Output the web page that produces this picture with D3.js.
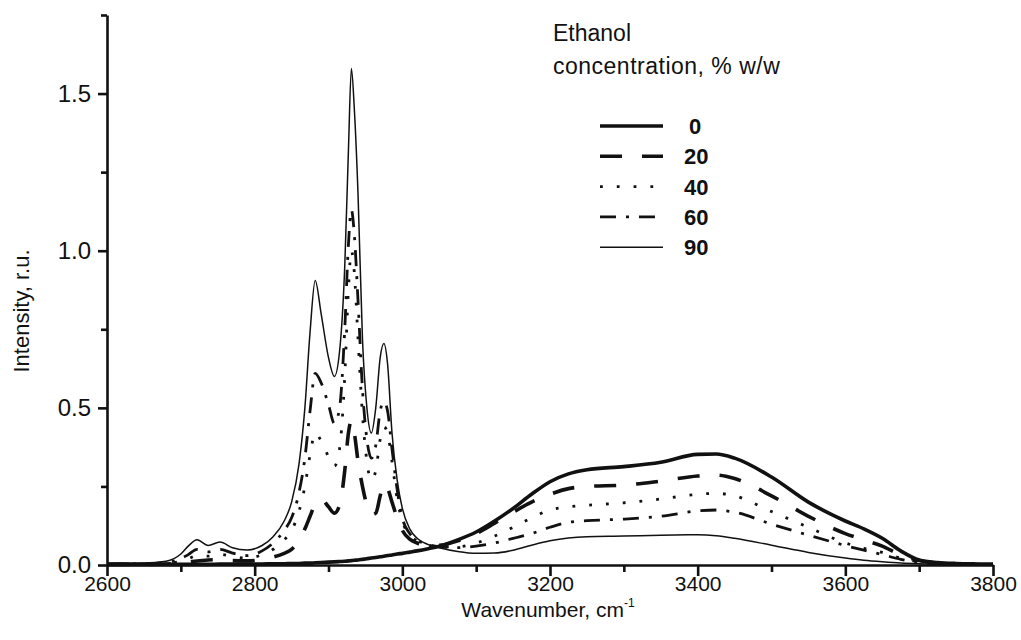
<!DOCTYPE html>
<html>
<head>
<meta charset="utf-8">
<script src="https://cdn.jsdelivr.net/npm/d3@7"></script>
<style>
  body { margin: 0; background: #fff; }
  svg { display: block; font-family: "Liberation Sans", Arial, sans-serif; }
</style>
</head>
<body>
<div id="chart"></div>
<script>
// wavenumber grid (cm-1), denser in the C-H stretching region
var wavenumbers = [2600, 2650, 2680, 2700, 2710, 2722, 2737, 2753, 2770, 2790,
  2810, 2825, 2840, 2850, 2860, 2868, 2875, 2882, 2890, 2900,
  2908, 2915, 2922, 2927, 2931, 2935, 2940, 2946, 2952, 2958,
  2964, 2970, 2975, 2980, 2986, 2993, 3000, 3010, 3020, 3035,
  3050, 3075, 3100, 3125, 3150, 3175, 3200, 3225, 3250, 3300,
  3350, 3400, 3425, 3450, 3500, 3550, 3600, 3625, 3650, 3675,
  3700, 3725, 3750, 3800];

var eth0 = [0.002, 0.002, 0.002, 0.002, 0.002, 0.002, 0.002, 0.003, 0.003, 0.003,
  0.003, 0.004, 0.004, 0.005, 0.005, 0.006, 0.006, 0.007, 0.008, 0.009,
  0.010, 0.011, 0.012, 0.013, 0.014, 0.015, 0.016, 0.018, 0.020, 0.022,
  0.024, 0.026, 0.028, 0.030, 0.032, 0.035, 0.037, 0.041, 0.045, 0.052,
  0.060, 0.080, 0.105, 0.140, 0.180, 0.225, 0.265, 0.290, 0.303, 0.313,
  0.327, 0.352, 0.353, 0.340, 0.280, 0.200, 0.140, 0.115, 0.085, 0.045,
  0.016, 0.008, 0.005, 0.003];

var eth20 = [0.002, 0.002, 0.003, 0.006, 0.009, 0.013, 0.016, 0.017, 0.014, 0.013,
  0.018, 0.025, 0.037, 0.050, 0.078, 0.115, 0.155, 0.195, 0.210, 0.185,
  0.165, 0.190, 0.300, 0.420, 0.460, 0.420, 0.330, 0.250, 0.190, 0.160,
  0.165, 0.220, 0.260, 0.245, 0.200, 0.150, 0.110, 0.082, 0.070, 0.063,
  0.063, 0.077, 0.100, 0.133, 0.168, 0.200, 0.225, 0.243, 0.250, 0.254,
  0.267, 0.283, 0.286, 0.275, 0.220, 0.155, 0.100, 0.080, 0.060, 0.032,
  0.014, 0.006, 0.004, 0.002];

var eth40 = [0.003, 0.003, 0.006, 0.012, 0.020, 0.030, 0.028, 0.034, 0.027, 0.022,
  0.033, 0.050, 0.080, 0.110, 0.170, 0.250, 0.350, 0.420, 0.395, 0.345,
  0.315, 0.370, 0.600, 0.880, 1.000, 0.930, 0.720, 0.480, 0.330, 0.270,
  0.300, 0.400, 0.440, 0.420, 0.330, 0.210, 0.140, 0.095, 0.077, 0.063,
  0.058, 0.058, 0.070, 0.092, 0.120, 0.150, 0.175, 0.185, 0.190, 0.198,
  0.210, 0.225, 0.228, 0.220, 0.170, 0.120, 0.070, 0.053, 0.040, 0.022,
  0.010, 0.005, 0.003, 0.002];

var eth60 = [0.003, 0.004, 0.008, 0.020, 0.033, 0.050, 0.042, 0.050, 0.038, 0.030,
  0.045, 0.070, 0.110, 0.150, 0.230, 0.340, 0.490, 0.610, 0.580, 0.510,
  0.450, 0.500, 0.750, 1.020, 1.130, 1.050, 0.840, 0.560, 0.400, 0.340,
  0.380, 0.490, 0.520, 0.490, 0.370, 0.240, 0.150, 0.100, 0.080, 0.065,
  0.058, 0.055, 0.060, 0.070, 0.085, 0.100, 0.120, 0.136, 0.141, 0.146,
  0.155, 0.172, 0.175, 0.168, 0.130, 0.095, 0.062, 0.047, 0.033, 0.018,
  0.008, 0.004, 0.003, 0.002];

var eth90 = [0.005, 0.006, 0.012, 0.035, 0.060, 0.080, 0.062, 0.073, 0.055, 0.048,
  0.062, 0.090, 0.140, 0.200, 0.320, 0.500, 0.740, 0.905, 0.800, 0.660,
  0.600, 0.680, 0.950, 1.320, 1.580, 1.450, 1.180, 0.720, 0.500, 0.420,
  0.500, 0.660, 0.705, 0.640, 0.420, 0.270, 0.180, 0.115, 0.085, 0.065,
  0.055, 0.043, 0.037, 0.038, 0.047, 0.063, 0.077, 0.086, 0.090, 0.092,
  0.095, 0.096, 0.093, 0.085, 0.063, 0.040, 0.022, 0.015, 0.010, 0.006,
  0.004, 0.003, 0.002, 0.002];

var legendLabels = ["0", "20", "40", "60", "90"];
var xTicks = [2600, 2800, 3000, 3200, 3400, 3600, 3800];
var xMinor = [2700, 2900, 3100, 3300, 3500, 3700];
var yTicks = [0, 0.5, 1.0, 1.5];
var yMinor = [0.25, 0.75, 1.25, 1.75];

var w = 1021, h = 640;
var svg = d3.select("#chart").append("svg")
    .attr("width", w)
    .attr("height", h);

var x = d3.scaleLinear().domain([2600, 3800]).range([107, 993]);
var y = d3.scaleLinear().domain([0, 1.75]).range([565, 15]);

// line styles per concentration
var styles = [
  {width: 3.6, dash: null},
  {width: 3.6, dash: "22,20"},
  {width: 2.8, dash: "2.8,14"},
  {width: 2.8, dash: "16,10,3,10"},
  {width: 1.5, dash: null}
];

var seriesValues = [eth0, eth20, eth40, eth60, eth90];
var series = seriesValues.map(function(vals, i) {
  return {
    label: legendLabels[i],
    style: styles[i],
    values: wavenumbers.map(function(wn, j) { return {wn: wn, v: vals[j]}; })
  };
});

var line = d3.line()
    .curve(d3.curveMonotoneX)
    .x(function(d) { return x(d.wn); })
    .y(function(d) { return y(d.v); });

svg.append("g").selectAll("path")
    .data(series)
  .enter().append("path")
    .attr("d", function(d) { return line(d.values); })
    .attr("fill", "none")
    .attr("stroke", "#111")
    .attr("stroke-width", function(d) { return d.style.width; })
    .attr("stroke-dasharray", function(d) { return d.style.dash; })
    .attr("stroke-linejoin", "round");

// axes
var xAxis = svg.append("g")
    .attr("class", "axis")
    .attr("transform", "translate(0,565)")
    .call(d3.axisBottom(x).tickValues(xTicks).tickSize(11).tickSizeOuter(0).tickPadding(0)
      .tickFormat(d3.format("d")));
svg.append("g")
    .attr("class", "axis minor")
    .attr("transform", "translate(0,565)")
    .call(d3.axisBottom(x).tickValues(xMinor).tickSize(7).tickSizeOuter(0).tickFormat(""));

var yAxis = svg.append("g")
    .attr("class", "axis")
    .attr("transform", "translate(107,0)")
    .call(d3.axisLeft(y).tickValues(yTicks).tickSize(9).tickSizeOuter(0).tickPadding(7)
      .tickFormat(d3.format(".1f")));
svg.append("g")
    .attr("class", "axis minor")
    .attr("transform", "translate(107,0)")
    .call(d3.axisLeft(y).tickValues(yMinor).tickSize(6).tickSizeOuter(0).tickFormat(""));

svg.selectAll(".axis path, .axis line")
    .attr("stroke", "#111")
    .attr("stroke-width", 2.6);
svg.selectAll(".minor path").remove();

xAxis.selectAll("text")
    .attr("font-size", 21)
    .attr("fill", "#111")
    .attr("font-family", "Liberation Sans, Arial, sans-serif");
yAxis.selectAll("text")
    .attr("font-size", 24)
    .attr("fill", "#111")
    .attr("font-family", "Liberation Sans, Arial, sans-serif");

// axis titles
svg.append("text")
    .attr("transform", "translate(29,311) rotate(-90)")
    .attr("text-anchor", "middle")
    .attr("font-size", 22)
    .attr("fill", "#111")
    .text("Intensity, r.u.");

var xt = svg.append("text")
    .attr("x", 548)
    .attr("y", 617)
    .attr("text-anchor", "middle")
    .attr("font-size", 21)
    .attr("fill", "#111");
xt.append("tspan").text("Wavenumber, cm");
xt.append("tspan").attr("dy", -10).attr("font-size", 12).text("-1");

// legend
svg.append("text")
    .attr("x", 553).attr("y", 41)
    .attr("font-size", 23).attr("fill", "#111")
    .text("Ethanol");
svg.append("text")
    .attr("x", 553).attr("y", 74)
    .attr("font-size", 23).attr("fill", "#111")
    .attr("letter-spacing", 0.5)
    .text("concentration, % w/w");

var legend = svg.append("g").selectAll("g")
    .data(series)
  .enter().append("g")
    .attr("transform", function(d, i) { return "translate(600," + (126 + i * 30.3) + ")"; });

legend.append("line")
    .attr("x1", 0).attr("x2", 63)
    .attr("stroke", "#111")
    .attr("stroke-width", function(d) { return d.style.width; })
    .attr("stroke-dasharray", function(d) { return d.style.dash; });

legend.append("text")
    .attr("x", function(d) { return d.label.length === 1 ? 89 : 84; })
    .attr("y", 8)
    .attr("font-size", 22)
    .attr("font-weight", "bold")
    .attr("fill", "#111")
    .text(function(d) { return d.label; });
</script>
</body>
</html>
